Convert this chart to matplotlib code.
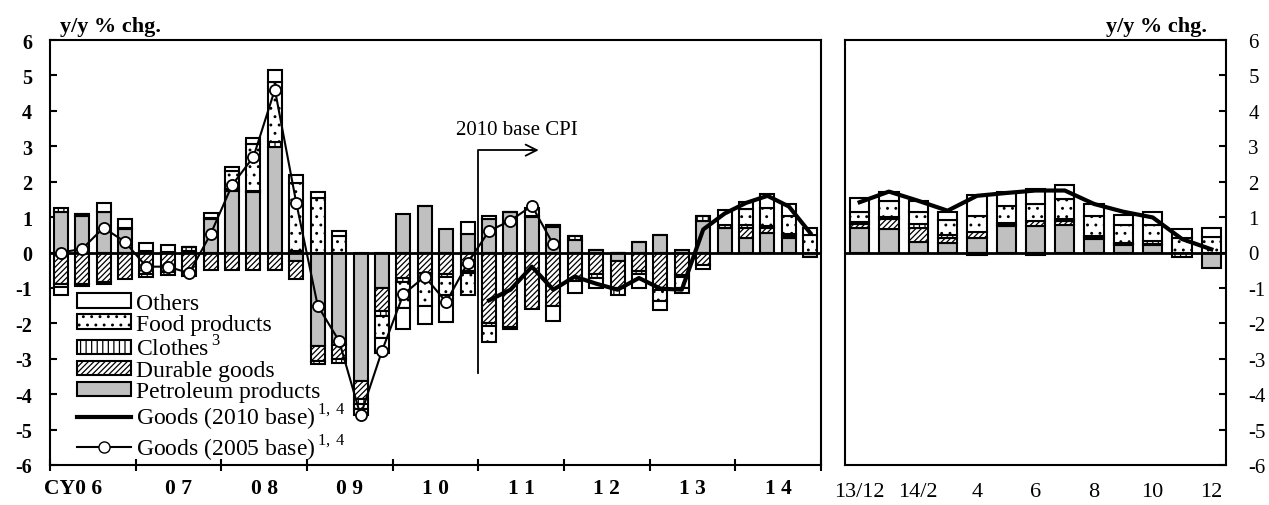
import numpy as np
import matplotlib.pyplot as plt
from matplotlib.patches import Patch
from matplotlib.lines import Line2D

plt.rcParams['font.family'] = ['Liberation Serif', 'DejaVu Serif']
plt.rcParams['mathtext.fontset'] = 'custom'
plt.rcParams['mathtext.rm'] = 'Liberation Serif'
plt.rcParams['axes.unicode_minus'] = False
plt.rcParams['hatch.linewidth'] = 0.9

# quarterly contributions, CY2006 Q1 .. CY2014 Q4
petroleum = [1.15, 1.02, 1.15, 0.65, 0.05, 0.02, 0.05, 0.95, 1.75, 1.7, 2.97, -0.25,
             -2.65, -2.6, -3.63, -1.0, 1.08, 1.32, 0.66, 0.52, 0.94, 1.13, 0.99, 0.71,
             0.35, 0.08, -0.25, 0.3, 0.5, 0.07, 0.9, 0.7, 0.4, 0.55, 0.4, -0.12]
durable = [-0.9, -0.88, -0.83, -0.75, -0.6, -0.55, -0.65, -0.5, -0.5, -0.5, -0.5, -0.5,
           -0.4, -0.4, -0.5, -0.65, -0.72, -0.57, -0.61, -0.52, -1.98, -2.1, -1.6, -1.5,
           -0.8, -0.62, -0.75, -0.52, -1.05, -0.63, -0.35, 0.0, 0.28, 0.15, 0.08, 0.0]
clothes = [0.1, 0.08, -0.07, 0.05, -0.1, -0.08, 0.1, 0.03, 0.05, 0.05, 0.14, 0.05,
           -0.1, -0.12, -0.15, -0.15, -0.1, 0.0, -0.08, -0.05, -0.1, -0.07, 0.05, 0.06,
           0.12, -0.1, -0.2, -0.1, 0.0, -0.05, 0.12, 0.08, 0.1, 0.05, 0.05, 0.0]
food = [-0.08, 0.0, 0.0, 0.0, 0.0, 0.0, 0.0, 0.0, 0.5, 1.32, 1.7, 1.9,
        1.55, 0.47, -0.15, -0.6, -0.75, -0.93, -0.52, -0.63, -0.45, 0.0, 0.0, 0.0,
        0.0, 0.0, 0.0, 0.0, -0.32, -0.32, 0.0, 0.0, 0.45, 0.5, 0.5, 0.5]
others = [-0.22, -0.07, 0.25, 0.25, 0.22, 0.2, 0.0, 0.14, 0.12, 0.17, 0.33, 0.24,
          0.15, 0.14, -0.17, -0.45, -0.6, -0.53, -0.75, 0.33, 0.08, 0.0, 0.21, -0.43,
          -0.33, -0.28, 0.0, -0.38, -0.25, -0.13, -0.12, 0.42, 0.2, 0.4, 0.35, 0.18]
goods_2005 = [0.0, 0.1, 0.7, 0.3, -0.4, -0.4, -0.58, 0.52, 1.9, 2.7, 4.6, 1.4,
              -1.5, -2.5, -4.6, -2.78, -1.18, -0.68, -1.4, -0.3, 0.61, 0.9, 1.32, 0.23]
goods_2010 = [-1.35, -1.05, -0.4, -1.05, -0.68, -0.88, -1.05, -0.72, -1.02, -1.05,
              0.65, 1.1, 1.4, 1.6, 1.3, 0.55]
year_labels = ['CY0 6', '0 7', '0 8', '0 9', '1 0', '1 1', '1 2', '1 3', '1 4']

# monthly contributions, 2013/12 .. 2014/12
m_petroleum = [0.68, 0.66, 0.3, 0.28, 0.42, 0.74, 0.75, 0.78, 0.38, 0.2, 0.2, 0.0, -0.45]
m_durable = [0.12, 0.3, 0.4, 0.12, 0.15, 0.03, 0.13, 0.12, 0.05, 0.03, 0.05, 0.0, 0.0]
m_clothes = [0.05, 0.05, 0.1, 0.1, -0.07, 0.05, -0.07, 0.05, 0.05, 0.05, 0.08, -0.13, 0.0]
m_food = [0.28, 0.45, 0.35, 0.42, 0.45, 0.5, 0.5, 0.55, 0.55, 0.5, 0.45, 0.4, 0.45]
m_others = [0.4, 0.25, 0.3, 0.23, 0.6, 0.4, 0.4, 0.4, 0.35, 0.27, 0.37, 0.26, 0.23]
m_goods_2010 = [1.42, 1.72, 1.46, 1.18, 1.6, 1.68, 1.75, 1.75, 1.37, 1.15, 0.99, 0.38, 0.09]
month_labels = ['13/12', '', '14/2', '', '4', '', '6', '', '8', '', '10', '', '12']

GRAY = '#c0c0c0'
styles = [
    dict(facecolor=GRAY),
    dict(facecolor='white', hatch='//////'),
    dict(facecolor='white', hatch='|||'),
    dict(facecolor='white', hatch='..'),
    dict(facecolor='white'),
]


def stacked(ax, comps, width):
    n = len(comps[0])
    x = np.arange(n)
    pos = np.zeros(n)
    neg = np.zeros(n)
    for vals, st in zip(comps, styles):
        v = np.array(vals, dtype=float)
        bottom = np.where(v >= 0, pos, neg)
        ax.bar(x, v, width, bottom=bottom, edgecolor='black', linewidth=1.5,
               zorder=2, **st)
        pos += np.clip(v, 0, None)
        neg += np.clip(v, None, 0)


fig = plt.figure(figsize=(12.69, 5.06), dpi=100)
ax = fig.add_axes([50 / 1269, 40 / 506, 771 / 1269, 425 / 506])
ax2 = fig.add_axes([845 / 1269, 40 / 506, 381 / 1269, 425 / 506])

# left panel
stacked(ax, [petroleum, durable, clothes, food, others], 0.65)
ax.axhline(0, color='black', lw=2, zorder=3)
ax.plot(np.arange(len(goods_2005)), goods_2005, color='black', lw=1.5,
        marker='o', ms=8, mfc='white', mec='black', mew=1.3, zorder=5)
ax.plot(np.arange(20, 20 + len(goods_2010)), goods_2010, color='black', lw=3, zorder=5)

ax.set_xlim(-0.5, 35.5)
ax.set_ylim(-6, 6)
ax.set_yticks(range(-6, 7))
ax.set_xticks(np.arange(-0.5, 36, 4))
ax.set_xticklabels([])
ax.tick_params(axis='x', direction='inout', length=9, width=1.5)
ax.tick_params(axis='y', direction='in', length=5, width=1.5, pad=13, labelsize=14.5)
for lab in ax.get_yticklabels():
    lab.set_fontweight('bold')
for i, lab in enumerate(year_labels):
    xc = 4 * i + 1.5 if i > 0 else 0.6
    ax.text(xc, -6.65, lab, ha='center', va='center', fontsize=15.5, fontweight='bold')
for s in ax.spines.values():
    s.set_linewidth(1.5)

# 2010 base CPI marker
ax.plot([19.5, 19.5, 22.0], [-3.4, 2.89, 2.89], color='black', lw=1.3, zorder=4)
ax.annotate('', xy=(22.45, 2.89), xytext=(21.8, 2.89),
            arrowprops=dict(arrowstyle='->', lw=1.3, mutation_scale=20, color='black'))
ax.text(21.3, 3.47, '2010 base CPI', ha='center', va='center', fontsize=15)

fig.text(110 / 1269, 1 - 27 / 506, 'y/y % chg.', ha='center', va='center',
         fontsize=16, fontweight='bold')
fig.text(1157 / 1269, 1 - 27 / 506, 'y/y % chg.', ha='center', va='center',
         fontsize=16, fontweight='bold')

handles = [
    Patch(facecolor='white', edgecolor='black', lw=1.5),
    Patch(facecolor='white', edgecolor='black', lw=1.5, hatch='..'),
    Patch(facecolor='white', edgecolor='black', lw=1.5, hatch='|||'),
    Patch(facecolor='white', edgecolor='black', lw=1.5, hatch='//////'),
    Patch(facecolor=GRAY, edgecolor='black', lw=1.5),
    Line2D([], [], color='black', lw=3),
    Line2D([], [], color='black', lw=1.5, marker='o', ms=8, mfc='white', mec='black'),
]
labels = ['Others', 'Food products', r'Clothes$^{\,3}$', 'Durable goods',
          'Petroleum products', r'Goods (2010 base)$^{\,1,\,4}$',
          r'Goods (2005 base)$^{\,1,\,4}$']
ax.legend(handles, labels, loc='upper left', bbox_to_anchor=(0.035, 0.405),
          frameon=False, fontsize=17, handlelength=2.3, handleheight=0.55,
          handletextpad=0.2, labelspacing=0.0, borderpad=0, borderaxespad=0)

# right panel
stacked(ax2, [m_petroleum, m_durable, m_clothes, m_food, m_others], 0.66)
ax2.axhline(0, color='black', lw=2, zorder=3)
ax2.plot(np.arange(len(m_goods_2010)), m_goods_2010, color='black', lw=3, zorder=5)
ax2.set_xlim(-0.5, 12.5)
ax2.set_ylim(-6, 6)
ax2.set_yticks(range(-6, 7))
ax2.yaxis.tick_right()
ax2.set_xticks(np.arange(13))
ax2.set_xticklabels(month_labels, fontsize=16)
ax2.tick_params(axis='x', length=0, pad=12)
ax2.tick_params(axis='y', direction='in', length=5, width=1.5, pad=16, labelsize=15)
for s in ax2.spines.values():
    s.set_linewidth(1.5)

fig.savefig('out.png', dpi=100)
